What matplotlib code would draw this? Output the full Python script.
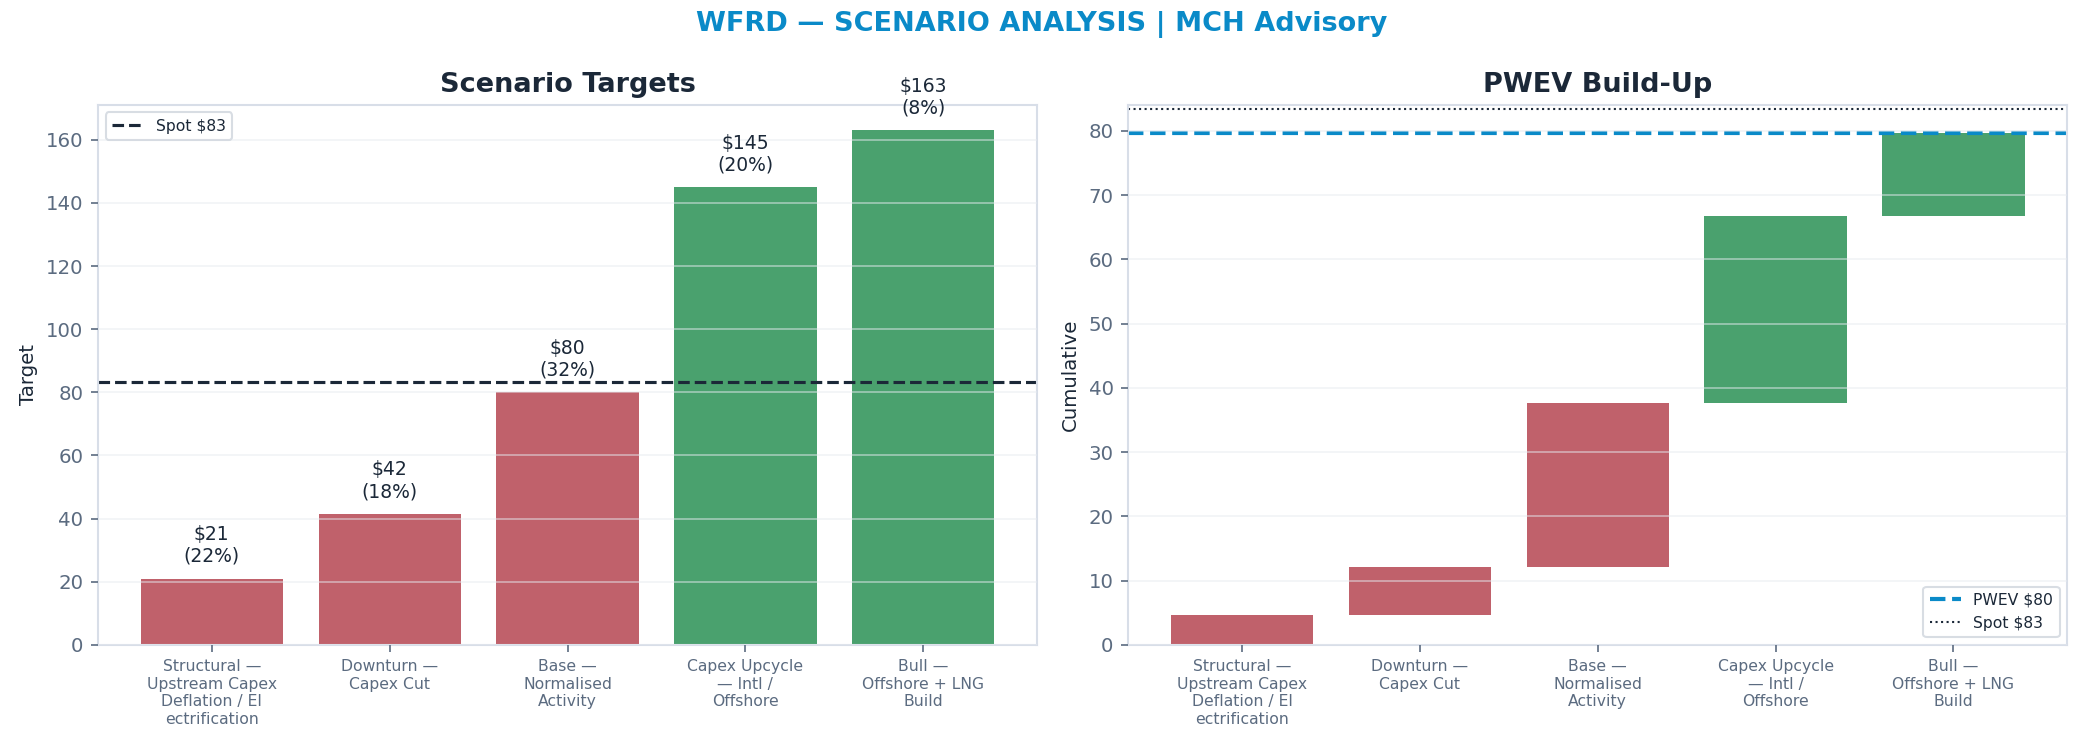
import textwrap
import numpy as np
import matplotlib
matplotlib.use("Agg")
import matplotlib.pyplot as plt

# --- DATA ---------------------------------------------------------------
scenarios = [
    "Structural — Upstream Capex Deflation / Electrification",
    "Downturn — Capex Cut",
    "Base — Normalised Activity",
    "Capex Upcycle — Intl / Offshore",
    "Bull — Offshore + LNG Build",
]
targets = [21.0, 41.5, 80.0, 145.0, 163.0]
probs = [0.22, 0.18, 0.32, 0.20, 0.08]
spot = 83.4
# -----------------------------------------------------------------------

RED = "#c0616b"
GREEN = "#4aa16e"
DARK = "#1b2838"
SLATE = "#5b6b80"
SPINE = "#d8dee8"
BLUE = "#0a8ac8"

labels = [textwrap.fill(s, 14) for s in scenarios]
x = np.arange(len(scenarios))
colors = [GREEN if t > spot else RED for t in targets]
contrib = np.array(targets) * np.array(probs)
cum = np.cumsum(contrib)
starts = cum - contrib
pwev = cum[-1]

plt.rcParams["font.family"] = "DejaVu Sans"
fig, (ax1, ax2) = plt.subplots(1, 2, figsize=(2084 / 150, 742 / 150), dpi=150)
fig.subplots_adjust(left=0.047, right=0.992, bottom=0.131, top=0.859, wspace=0.097)


def style(ax):
    for s in ax.spines.values():
        s.set_color(SPINE)
        s.set_linewidth(1.0)
    ax.tick_params(axis="y", colors=SLATE, labelsize=9.5, length=3.5)
    ax.tick_params(axis="x", colors=SLATE, labelsize=7.5, length=3.5)
    ax.grid(axis="y", color="#e6eaf0", alpha=0.5, linewidth=0.9)
    ax.set_axisbelow(False)


# 1. Scenario targets
ax1.bar(x, targets, width=0.8, color=colors)
ax1.axhline(spot, color=DARK, linestyle="--", linewidth=1.5, label=f"Spot ${spot:.0f}")
for xi, t, p in zip(x, targets, probs):
    ax1.text(xi, t + 4, f"${t:.0f}\n({p:.0%})", ha="center", va="bottom",
             fontsize=9, color=DARK)
ax1.set_ylim(0, max(targets) * 1.05)
ax1.set_xticks(x)
ax1.set_xticklabels(labels)
ax1.set_ylabel("Target", fontsize=9.5, color=DARK)
ax1.set_title("Scenario Targets", fontsize=13, fontweight="bold", color=DARK)
ax1.legend(loc="upper left", fontsize=7.5, edgecolor="#cfd5dd", labelcolor=DARK)
style(ax1)

# 2. PWEV build-up (floating bars)
ax2.bar(x, contrib, bottom=starts, width=0.8, color=colors)
ax2.axhline(pwev, color=BLUE, linestyle="--", linewidth=2, label=f"PWEV ${pwev:.0f}")
ax2.axhline(spot, color=DARK, linestyle=":", linewidth=1, label=f"Spot ${spot:.0f}")
ax2.set_ylim(0, 84.1)
ax2.set_xticks(x)
ax2.set_xticklabels(labels)
ax2.set_ylabel("Cumulative", fontsize=9.5, color=DARK)
ax2.set_title("PWEV Build-Up", fontsize=13, fontweight="bold", color=DARK)
ax2.legend(loc="lower right", fontsize=7.5, edgecolor="#cfd5dd", labelcolor=DARK)
style(ax2)

fig.suptitle("WFRD — SCENARIO ANALYSIS | MCH Advisory", fontsize=13,
             fontweight="bold", color=BLUE, y=0.985)

fig.savefig("out.png", dpi=150)
